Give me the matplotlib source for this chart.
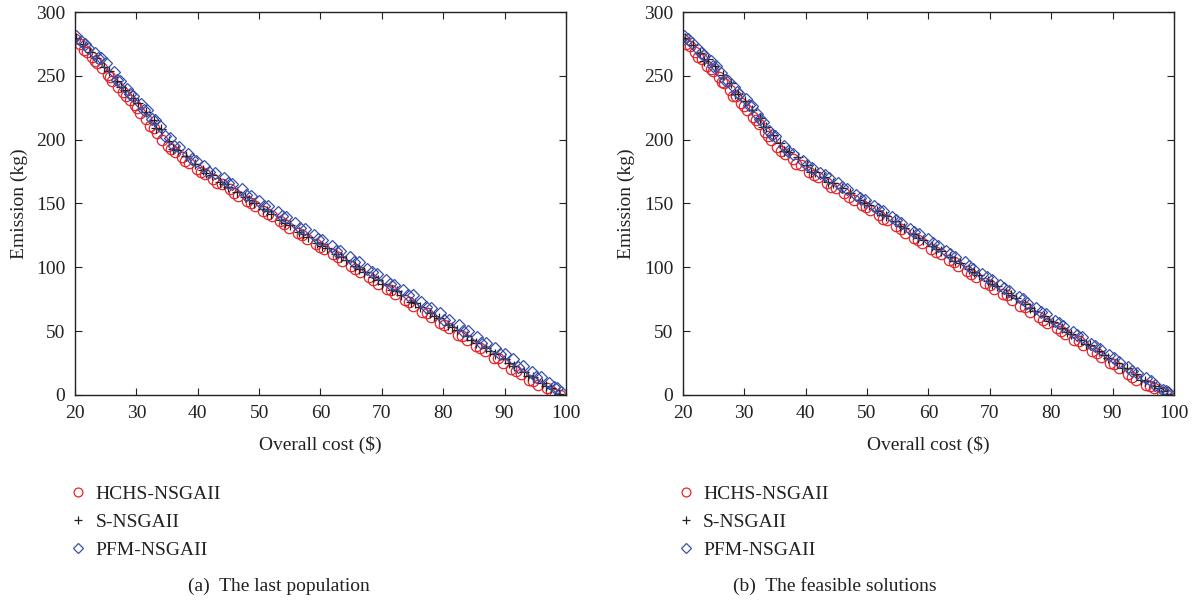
import matplotlib
matplotlib.use("Agg")
import matplotlib.pyplot as plt

plt.rcParams['font.family'] = ['Liberation Serif', 'DejaVu Serif']

# (a) the last population
a_hchs_x = [20.0, 20.8, 21.9, 22.7, 23.6, 24.4, 25.3, 26.1, 27.0, 27.8, 28.9, 29.7, 30.6, 31.5, 32.3, 33.4,
            34.2, 35.1, 36.3, 37.4, 38.6, 39.9, 41.2, 42.5, 43.9, 45.2, 46.6, 48.0, 49.3, 50.7, 52.1, 53.4,
            54.9, 56.3, 57.8, 59.2, 60.6, 62.1, 63.5, 65.0, 66.4, 67.9, 69.3, 70.8, 72.2, 73.7, 75.1, 76.6,
            78.0, 79.5, 80.9, 82.4, 83.8, 85.3, 86.8, 88.2, 89.7, 91.1, 92.6, 94.0, 95.5, 96.9, 98.2, 99.0,
            21.4, 23.2, 25.7, 28.3, 30.1, 32.8, 35.7, 38.0, 40.5, 43.2, 45.9, 48.6, 51.4, 54.1, 57.0, 59.9,
            62.8, 65.7, 68.6, 71.5, 74.4, 77.3, 80.2, 83.1, 86.0, 88.9, 91.8, 94.7, 97.6]
a_hchs_y = [279, 275, 269, 265, 260, 256, 251, 246, 241, 237, 231, 227, 221, 216, 211, 205,
            200, 195, 190, 186, 182, 177, 173, 169, 165, 161, 156, 152, 148, 144, 140, 136,
            131, 127, 122, 118, 114, 110, 105, 101, 96, 92, 87, 83, 79, 74, 70, 65,
            61, 56, 52, 47, 43, 38, 34, 29, 25, 20, 16, 12, 8, 5, 1, 0,
            270, 262, 249, 234, 225, 209, 193, 183, 175, 166, 158, 150, 142, 134, 125, 116,
            108, 99, 90, 82, 73, 64, 55, 46, 37, 29, 19, 11, 3]
a_s_x = [20.2, 21.3, 22.5, 23.5, 24.8, 25.6, 26.9, 28.2, 29.4, 30.3, 31.6, 32.8, 34.0, 35.4, 36.8, 38.1,
         39.5, 40.8, 42.3, 43.6, 45.0, 46.4, 47.7, 49.1, 50.6, 52.0, 53.5, 55.0, 56.5, 58.0, 59.5, 61.0,
         62.5, 64.1, 65.6, 67.1, 68.6, 70.1, 71.7, 73.2, 74.7, 76.2, 77.8, 79.3, 80.8, 82.3, 83.9, 85.4,
         86.9, 88.5, 90.0, 91.5, 93.1, 94.6, 96.1, 97.5, 98.8,
         27.5, 33.2, 36.0, 41.4, 44.2, 48.4, 51.3, 54.2, 57.2, 60.2, 63.3, 66.3, 69.3, 72.4, 75.4, 78.5,
         81.5, 84.6, 87.6, 90.7, 93.8, 96.8]
a_s_y = [280, 275, 269, 264, 257, 254, 246, 239, 233, 229, 222, 215, 208, 199, 192, 187,
         181, 176, 172, 167, 163, 159, 155, 150, 146, 142, 137, 133, 128, 124, 119, 115,
         110, 106, 101, 96, 92, 87, 82, 78, 73, 69, 64, 60, 55, 51, 46, 41,
         37, 32, 28, 23, 18, 14, 9, 5, 1,
         241, 209, 193, 174, 165, 153, 144, 135, 126, 117, 108, 99, 90, 81, 72, 62,
         53, 43, 34, 25, 15, 7]
a_pfm_x = [20.1, 21.0, 22.2, 23.3, 24.2, 25.0, 26.4, 27.3, 28.5, 29.5, 30.8, 31.8, 33.0, 33.9, 35.5, 37.0,
           38.4, 39.7, 41.0, 42.8, 44.2, 45.6, 47.2, 48.6, 50.0, 51.5, 53.0, 54.4, 55.8, 57.4, 58.9, 60.3,
           61.8, 63.2, 64.8, 66.2, 67.6, 69.2, 70.6, 72.0, 73.5, 75.0, 76.4, 78.0, 79.4, 81.0, 82.5, 84.0,
           85.5, 87.0, 88.4, 90.0, 91.4, 93.0, 94.4, 95.9, 97.3, 98.5, 99.2,
           21.6, 23.8, 26.9, 29.0, 31.3, 32.5, 34.7, 36.2, 39.0, 41.9, 44.9, 47.9, 50.8, 53.7, 56.6, 59.6,
           62.5, 65.5, 68.4, 71.3, 74.2, 77.2, 80.2, 83.2, 86.2, 89.2, 92.2, 95.2, 98.0]
a_pfm_y = [281, 277, 272, 268, 264, 260, 253, 246, 240, 234, 228, 223, 215, 211, 201, 194,
           189, 183, 179, 174, 170, 165, 161, 156, 152, 148, 143, 139, 135, 130, 125, 121,
           117, 113, 108, 104, 99, 95, 90, 86, 82, 78, 73, 68, 64, 59, 55, 50,
           45, 41, 37, 32, 28, 23, 18, 14, 9, 5, 2,
           275, 264, 247, 236, 223, 216, 203, 195, 185, 175, 166, 157, 148, 140, 131, 122,
           113, 104, 96, 87, 78, 69, 59, 50, 41, 32, 22, 14, 6]

# (b) the feasible solutions
b_hchs_x = [20.0, 21.1, 22.0, 23.1, 24.0, 24.9, 25.8, 26.7, 27.6, 28.6, 29.5, 30.4, 31.4, 32.4, 33.3, 34.3,
            35.4, 36.6, 37.9, 39.2, 40.6, 42.0, 43.5, 45.0, 46.3, 47.8, 49.2, 50.5, 51.9, 53.3, 54.8, 56.2,
            57.6, 59.0, 60.5, 62.0, 63.4, 64.9, 66.3, 67.8, 69.2, 70.7, 72.1, 73.6, 75.0, 76.5, 78.0, 79.4,
            80.9, 82.3, 83.8, 85.2, 86.7, 88.1, 89.6, 91.0, 92.5, 93.9, 95.4, 96.8, 98.0, 98.9,
            20.5, 22.5, 24.5, 26.3, 28.1, 29.9, 31.9, 33.8, 36.0, 38.5, 41.3, 44.2, 47.0, 49.8, 52.6, 55.5,
            58.3, 61.2, 64.1, 67.0, 70.0, 72.8, 75.7, 78.7, 81.6, 84.5, 87.4, 90.3, 93.2, 96.1]
b_hchs_y = [279, 273, 269, 263, 258, 254, 249, 244, 239, 234, 229, 223, 218, 212, 206, 200,
            194, 189, 185, 180, 175, 171, 166, 162, 158, 153, 149, 145, 141, 137, 132, 127,
            123, 119, 114, 110, 106, 101, 97, 92, 88, 83, 79, 74, 70, 65, 61, 56,
            52, 48, 43, 39, 34, 30, 25, 21, 16, 12, 8, 5, 2, 0,
            275, 265, 255, 245, 234, 226, 215, 203, 191, 181, 172, 163, 155, 147, 138, 130,
            121, 112, 104, 95, 86, 78, 69, 59, 50, 42, 33, 24, 14, 7]
b_s_x = [20.3, 21.6, 22.8, 24.1, 25.2, 26.5, 27.9, 29.0, 30.1, 31.3, 32.5, 33.6, 34.6, 35.8, 37.3, 38.7,
         40.2, 41.6, 43.0, 44.5, 45.9, 47.3, 48.8, 50.3, 51.7, 53.1, 54.6, 56.0, 57.5, 59.1, 60.6, 62.0,
         63.6, 65.1, 66.6, 68.2, 69.7, 71.2, 72.7, 74.2, 75.7, 77.2, 78.8, 80.3, 81.8, 83.3, 84.8, 86.3,
         87.8, 89.3, 90.8, 92.3, 93.8, 95.3, 96.8, 98.2, 98.9,
         23.4, 28.5, 33.0, 36.5, 40.9, 43.7, 49.5, 52.4, 55.3, 58.3, 61.3, 64.3, 67.4, 70.4, 73.5, 76.5,
         79.6, 82.6, 85.6, 88.6, 91.6, 94.6, 97.5]
b_s_y = [280, 274, 268, 263, 258, 251, 244, 236, 230, 223, 217, 210, 204, 197, 190, 186,
         180, 175, 171, 166, 162, 158, 153, 149, 144, 140, 136, 131, 126, 121, 117, 113,
         108, 103, 99, 94, 89, 85, 80, 76, 71, 66, 62, 57, 52, 48, 43, 39,
         34, 29, 25, 21, 16, 11, 7, 3, 1,
         262, 236, 210, 191, 175, 167, 150, 141, 132, 123, 114, 105, 96, 87, 78, 68,
         58, 49, 40, 31, 21, 12, 5]
b_pfm_x = [20.2, 21.4, 22.4, 23.5, 24.5, 25.4, 26.2, 27.3, 28.3, 29.2, 30.2, 31.2, 32.1, 33.1, 34.0, 35.0,
           36.5, 38.0, 39.5, 41.0, 42.4, 43.8, 45.3, 46.7, 48.2, 49.6, 51.1, 52.6, 54.0, 55.5, 57.0, 58.5,
           60.0, 61.5, 62.9, 64.4, 65.9, 67.3, 68.8, 70.3, 71.7, 73.2, 74.7, 76.1, 77.6, 79.1, 80.6, 82.0,
           83.5, 85.0, 86.5, 88.0, 89.5, 91.0, 92.5, 94.0, 95.5, 97.0, 98.3, 99.0,
           20.8, 22.9, 24.9, 26.8, 28.8, 30.7, 32.6, 34.5, 37.2, 40.2, 43.1, 46.0, 48.9, 51.8, 54.8, 57.7,
           60.7, 63.6, 66.6, 69.5, 72.4, 75.4, 78.3, 81.3, 84.2, 87.2, 90.2, 93.2, 96.2, 98.7]
b_pfm_y = [281, 276, 271, 266, 262, 258, 252, 246, 241, 236, 232, 226, 220, 214, 207, 203,
           195, 189, 183, 178, 174, 170, 166, 161, 157, 153, 148, 144, 139, 135, 130, 126,
           122, 117, 113, 108, 104, 99, 95, 90, 86, 81, 77, 72, 68, 63, 58, 54,
           49, 45, 40, 36, 31, 26, 22, 17, 13, 8, 4, 2,
           279, 268, 258, 247, 237, 227, 216, 204, 191, 180, 172, 163, 154, 146, 137, 128,
           119, 110, 101, 92, 84, 75, 65, 56, 47, 38, 29, 19, 11, 3]

labels = ["HCHS-NSGAII", "S-NSGAII", "PFM-NSGAII"]
captions = ["(a)  The last population", "(b)  The feasible solutions"]
xticks = [20, 30, 40, 50, 60, 70, 80, 90, 100]
yticks = [0, 50, 100, 150, 200, 250, 300]

panels = [
    [(a_hchs_x, a_hchs_y), (a_s_x, a_s_y), (a_pfm_x, a_pfm_y)],
    [(b_hchs_x, b_hchs_y), (b_s_x, b_s_y), (b_pfm_x, b_pfm_y)],
]
styles = [
    dict(marker='o', mfc='none', mec='#e8242b', ms=7.5, mew=0.9),
    dict(marker='+', color='#222222', ms=7, mew=0.9),
    dict(marker='D', mfc='none', mec='#3a50a8', ms=6, mew=0.9),
]

fig = plt.figure(figsize=(11.96, 6.01), dpi=100)
lefts = [0.0627, 0.571]
cap_x = [0.415, 0.31]

for i, series in enumerate(panels):
    ax = fig.add_axes([lefts[i], 0.343, 0.4105, 0.637])
    for (xs, ys), st, lab in zip(series, styles, labels):
        ax.plot(xs, ys, ls='none', label=lab, **st)
    ax.set_xlim(20, 100)
    ax.set_ylim(0, 300)
    ax.set_xticks(xticks)
    ax.set_yticks(yticks)
    ax.tick_params(direction='in', top=True, right=True, length=5, width=0.8,
                   labelsize=14, colors='#222222', pad=7)
    for sp in ax.spines.values():
        sp.set_linewidth(1.0)
        sp.set_color('#222222')
    ax.set_xlabel("Overall cost ($)", fontsize=14, color='#222222', labelpad=10)
    ax.set_ylabel("Emission (kg)", fontsize=14, color='#222222', labelpad=6)
    ax.legend(loc='upper left', bbox_to_anchor=(-0.03, -0.215), frameon=False, fontsize=14,
              handlelength=1.0, handletextpad=0.4, labelspacing=0.55, borderaxespad=0,
              markerscale=0.85, labelcolor='#222222')
    ax.text(cap_x[i], -0.5, captions[i], transform=ax.transAxes,
            ha='center', va='center', fontsize=14, color='#222222')

fig.savefig("out.png", dpi=100)
